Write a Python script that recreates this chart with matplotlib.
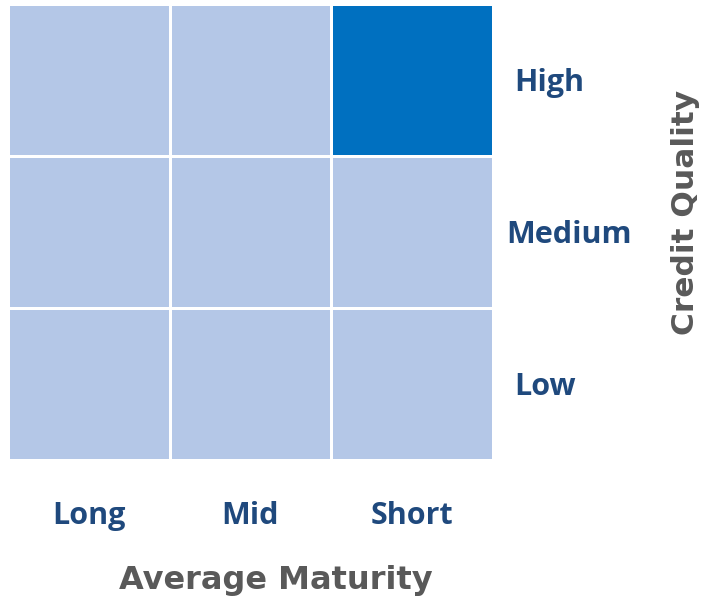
import numpy as np
import matplotlib.pyplot as plt
from matplotlib.colors import ListedColormap

# Izgara kategorileri
maturity = ['Long', 'Mid', 'Short']
quality = ['High', 'Medium', 'Low']

# Seçili stil kutusu (1 = seçili), satırlar yukarıdan aşağıya: High, Medium, Low
style = np.array([
    [0, 0, 1],
    [0, 0, 0],
    [0, 0, 0],
])

cmap = ListedColormap(['#B4C7E7', '#0070C0'])
label_color = '#1F497D'
title_color = '#595959'

fig = plt.figure(figsize=(7.05, 6.04), dpi=100)
ax = fig.add_axes([8 / 705, 1 - 460 / 604, 485 / 705, 456 / 604])

ax.pcolormesh(style, cmap=cmap, vmin=0, vmax=1, edgecolors='white', linewidth=1.0)
ax.set_xlim(0, len(maturity))
ax.set_ylim(len(quality), 0)
ax.set_xticks([])
ax.set_yticks([])
for s in ax.spines.values():
    s.set_visible(False)

# Sütun etiketleri
for i, name in enumerate(maturity):
    ax.text(i + 0.5, 3.37, name, ha='center', va='center', fontsize=22,
            fontweight='bold', color=label_color, family='Open Sans')

# Satır etiketleri
for j, name in enumerate(quality):
    x0 = 3.08 if name == 'Medium' else 3.13
    ax.text(x0, j + 0.52, name, ha='left', va='center', fontsize=22,
            fontweight='bold', color=label_color, family='Open Sans')

fig.text(276 / 705, 1 - 580 / 604, 'Average Maturity', ha='center', va='center',
         fontsize=23, fontweight='bold', color=title_color, family='DejaVu Sans')
fig.text(686 / 705, 1 - 212 / 604, 'Credit Quality', ha='center', va='center',
         rotation=90, fontsize=22.5, fontweight='bold', color=title_color,
         family='DejaVu Sans')

fig.savefig('out.png', dpi=100)
